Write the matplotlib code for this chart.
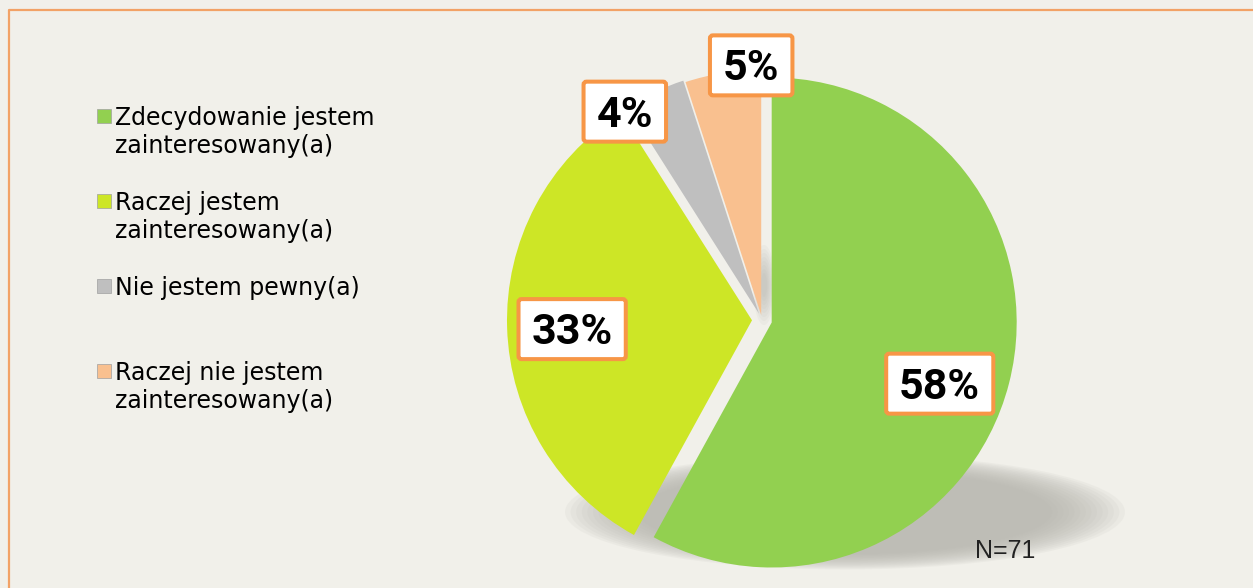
import numpy as np
import matplotlib
matplotlib.use('Agg')
import matplotlib.pyplot as plt
from matplotlib.patches import Rectangle, Ellipse, FancyBboxPatch

# data
labels = ['Zdecydowanie jestem\nzainteresowany(a)',
          'Raczej jestem\nzainteresowany(a)',
          'Nie jestem pewny(a)',
          'Raczej nie jestem\nzainteresowany(a)']
shares = [58, 33, 4, 5]
colors = ['#92D050', '#CDE626', '#BFBFBF', '#F9C08F']
note = 'N=71'

# layout of the pie and its % boxes (pixels, pie is drawn in pixel units)
explode = [10, 10, 7, 5]
lab_dist = [0.73, 0.735, 0.99, 1.02]   # fraction of radius
lab_turn = [-5.6, 1.0, 8.4, -6.7]      # degrees off the wedge middle

W, H = 1253, 588
bg = '#F1F0EA'
orange = '#F79646'

fig = plt.figure(figsize=(W / 100, H / 100), dpi=100, facecolor=bg)
ax = fig.add_axes([0, 0, 1, 1])
ax.set_facecolor(bg)
ax.set_xlim(0, W)
ax.set_ylim(0, H)

# soft shadow under the pie
cx, cy = 845, H - 512
for k in range(14):
    f = 1.0 - k * 0.02
    ax.add_patch(Ellipse((cx, cy), 560 * f, 115 * f, color='#B5B4AD',
                         alpha=0.1, lw=0, zorder=1))
# faint shade in the gap near the middle
for k in range(8):
    f = 1.0 - k * 0.1
    ax.add_patch(Ellipse((764, H - 285), 22 * f, 80 * f, color='#A8A7A0',
                         alpha=0.08, lw=0, zorder=1))

R = 245
wedges, _ = ax.pie(shares, colors=colors, explode=explode, startangle=90,
                   counterclock=False, center=(762, H - 320), radius=R,
                   wedgeprops=dict(linewidth=0, zorder=2), frame=True)

fig.canvas.draw()
rend = fig.canvas.get_renderer()
for i, w in enumerate(wedges):
    ang = np.deg2rad((w.theta1 + w.theta2) / 2 + lab_turn[i])
    x = w.center[0] + lab_dist[i] * R * np.cos(ang)
    y = w.center[1] + lab_dist[i] * R * np.sin(ang)
    t = ax.text(x, y - 15, f'{shares[i]}%', ha='center', va='baseline',
                fontsize=31, fontweight='bold', family='Roboto',
                color='black', zorder=6)
    tw = t.get_window_extent(rend).width
    ax.add_patch(FancyBboxPatch((x - tw / 2 - 13, y - 30), tw + 26, 60,
                                boxstyle='round,pad=0,rounding_size=3',
                                fc='white', ec=orange, lw=2.9, zorder=5))

# legend drawn by hand, one block per entry
for i, lab in enumerate(labels):
    top = 109 + 85 * i
    ax.add_patch(Rectangle((97, H - top - 14), 14, 14, fc=colors[i],
                           ec='#A0A0A0', lw=0.5, zorder=3))
    for j, line in enumerate(lab.split('\n')):
        ax.text(115, H - (125 + 85 * i + 28 * j), line, fontsize=17,
                family='DejaVu Sans', va='baseline', ha='left', color='#000000')

ax.text(975, H - 558, note, fontsize=18, family='Liberation Sans',
        va='baseline', ha='left', color='#222222')

# frame lines top and left
ax.plot([9, 9, W], [0, H - 10, H - 10], color='#F2A266', lw=1.6, zorder=7)

ax.set_xlim(0, W)
ax.set_ylim(0, H)
ax.axis('off')

fig.savefig('out.png', dpi=100, facecolor=bg)
